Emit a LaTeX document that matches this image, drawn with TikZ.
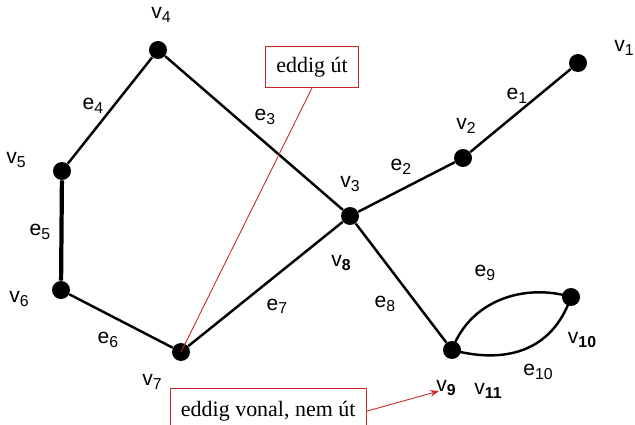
\documentclass[tikz,border=0pt]{standalone}
\usepackage{fontspec}
\setmainfont{Liberation Serif}
\setsansfont{Liberation Sans}
\usepackage{tikz}
\usetikzlibrary{arrows.meta, positioning}
\definecolor{NoteRed}{RGB}{200, 40, 40}
\newcommand{\idx}[1]{\raisebox{-0.3ex}{\fontsize{9}{10}\selectfont #1}}
\newcommand{\bidx}[1]{\raisebox{-0.3ex}{\fontsize{9}{10}\selectfont\bfseries #1}}
\tikzset{
  vtx/.style={circle, fill=black, inner sep=0pt, minimum size=0.36cm},
  lbl/.style={font=\sffamily\fontsize{12}{13}\selectfont, inner sep=1pt},
  edge/.style={line width=1.4pt, color=black},
  note/.style={rectangle, draw=NoteRed, fill=white, line width=0.5pt,
               font=\fontsize{12.5}{14}\selectfont, inner xsep=6pt,
               inner ysep=6pt},
  noteline/.style={color=NoteRed, line width=0.5pt},
}
\begin{document}
\begin{tikzpicture}[x=0.02cm, y=-0.02cm]
      \useasboundingbox (0,0) rectangle (635,425);

      % vertices
      \node[vtx] (v1)  at (578, 63)  {};
      \node[vtx] (v2)  at (463,158)  {};
      \node[vtx] (v3)  at (350,216)  {};
      \node[vtx] (v4)  at (158, 50)  {};
      \node[vtx] (v5)  at ( 62,171)  {};
      \node[vtx] (v6)  at ( 61,290)  {};
      \node[vtx] (v7)  at (181,352)  {};
      \node[vtx] (v9)  at (452,350)  {};
      \node[vtx] (v10) at (571,297)  {};

      % edges
      \draw[edge] (v1) -- (v2);
      \draw[edge] (v2) -- (v3);
      \draw[edge] (v3) -- (v4);
      \draw[edge] (v4) -- (v5);
      \draw[edge, line width=2.4pt] (v5) -- (v6);
      \draw[edge] (v6) -- (v7);
      \draw[edge] (v7) -- (v3);
      \draw[edge] (v3) -- (v9);
      \draw[edge] (v9.center) .. controls (470,300) and (525,283) .. (v10.center);
      \draw[edge] (v9.center) .. controls (505,364) and (552,352) .. (v10.center);

      % vertex labels
      \node[lbl] (l1)  at (624, 48)  {v\idx{1}};
      \node[lbl] (l2)  at (466,126)  {v\idx{2}};
      \node[lbl] (l3)  at (350,184)  {v\idx{3}};
      \node[lbl] (l4)  at (161, 15)  {v\idx{4}};
      \node[lbl] (l5)  at ( 16,160)  {v\idx{5}};
      \node[lbl] (l6)  at ( 19,299)  {v\idx{6}};
      \node[lbl] (l7)  at (152,382)  {v\idx{7}};
      \node[lbl] (l8)  at (341,263)  {v\bidx{8}};
      \node[lbl] (l9)  at (446,388)  {v\bidx{9}};
      \node[lbl] (l11) at (488,391)  {v\bidx{11}};
      \node[lbl] (l10) at (582,340)  {v\bidx{10}};

      % edge labels
      \node[lbl] (e1)  at (517, 96)  {e\idx{1}};
      \node[lbl] (e2)  at (401,167)  {e\idx{2}};
      \node[lbl] (e3)  at (265,117)  {e\idx{3}};
      \node[lbl] (e4)  at ( 93,106)  {e\idx{4}};
      \node[lbl] (e5)  at ( 40,232)  {e\idx{5}};
      \node[lbl] (e6)  at (108,340)  {e\idx{6}};
      \node[lbl] (e7)  at (277,306)  {e\idx{7}};
      \node[lbl] (e8)  at (385,304)  {e\idx{8}};
      \node[lbl] (e9)  at (485,273)  {e\idx{9}};
      \node[lbl] (e10) at (538,372)  {e\idx{10}};

      % notes
      \node[note] (utnote) at (312, 67) {eddig út};
      \node[note, anchor=north west] (vonalnote) at (170,388)
           {eddig vonal, nem út\strut};
      \coordinate (v9tip) at (439,391);

      \draw[noteline] (utnote.south) -- (v7.center);
      \draw[noteline, -{Stealth[length=5pt]}] (vonalnote.east) -- (v9tip);
    \end{tikzpicture}
\end{document}
